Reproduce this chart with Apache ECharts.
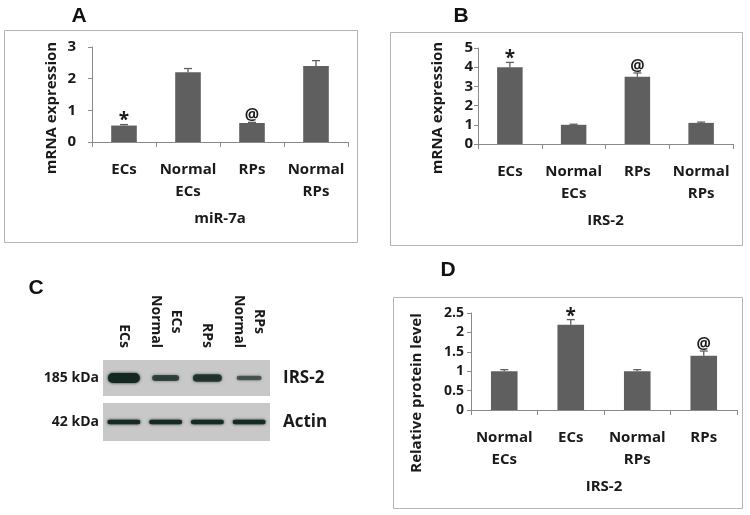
<!DOCTYPE html>
<html>
<head>
<meta charset="utf-8">
<script src="https://cdn.jsdelivr.net/npm/echarts@6/dist/echarts.min.js"></script>
<style>html,body{margin:0;padding:0;background:#fff}#c{width:750px;height:515px}</style>
</head>
<body>
<div id="c"></div>
<script>
// ---- Data ----
const catsAB = ['ECs', 'Normal\nECs', 'RPs', 'Normal\nRPs'];
const miR7aValues = [0.52, 2.2, 0.6, 2.4];
const miR7aErrors = [0.03, 0.12, 0.02, 0.17];
const miR7aMarks = ['*', '', '@', ''];
const yTicksA = [0, 1, 2, 3];

const irs2mRNAValues = [4.0, 1.0, 3.5, 1.1];
const irs2mRNAErrors = [0.25, 0.03, 0.2, 0.04];
const irs2mRNAMarks = ['*', '', '@', ''];
const yTicksB = [0, 1, 2, 3, 4, 5];

const catsD = ['Normal\nECs', 'ECs', 'Normal\nRPs', 'RPs'];
const irs2ProteinValues = [1.0, 2.2, 1.0, 1.4];
const irs2ProteinErrors = [0.04, 0.13, 0.04, 0.12];
const irs2ProteinMarks = ['', '*', '', '@'];
const yTicksD = [0, 0.5, 1, 1.5, 2, 2.5];

const blotLanes = ['ECs', 'Normal\nECs', 'RPs', 'Normal\nRPs'];
const irs2BandIntensity = [1.0, 0.5, 0.7, 0.3];
const actinBandIntensity = [0.9, 0.9, 0.9, 0.9];

// ---- Helpers ----
const FONT = '"Open Sans", Lato, sans-serif';
const TXT = '#1a1a1a';
const AXC = '#8a8a8a';
const BAR = '#5f5f5f';

function errRender(marks) {
  return function (params, api) {
    const i = api.value(0), v = api.value(1), e = api.value(2);
    const p0 = api.coord([i, v]);
    const p1 = api.coord([i, v + e]);
    const cap = 4;
    const children = [
      { type: 'line', shape: { x1: p0[0], y1: p0[1], x2: p1[0], y2: p1[1] }, style: { stroke: BAR, lineWidth: 1.3 } },
      { type: 'line', shape: { x1: p1[0] - cap, y1: p1[1], x2: p1[0] + cap, y2: p1[1] }, style: { stroke: BAR, lineWidth: 1.3 } }
    ];
    const m = marks[params.dataIndex];
    if (m) {
      children.push({
        type: 'text',
        style: {
          text: m, x: p1[0], y: m === '*' ? p1[1] + 6 : p1[1] + 1,
          align: 'center', verticalAlign: 'bottom',
          font: 'bold ' + (m === '*' ? 19 : 16) + 'px ' + FONT, fill: TXT
        }
      });
    }
    return { type: 'group', children };
  };
}

function valueAxis(gridIndex, ticks, margin, fontSize) {
  return {
    type: 'value', gridIndex,
    min: ticks[0], max: ticks[ticks.length - 1], interval: ticks[1] - ticks[0],
    splitLine: { show: false },
    axisLine: { show: true, lineStyle: { color: AXC } },
    axisTick: { show: true, length: 4, lineStyle: { color: AXC } },
    axisLabel: { margin, color: TXT, fontFamily: FONT, fontWeight: 'bold', fontSize }
  };
}
function catAxis(gridIndex, cats, name) {
  return {
    type: 'category', gridIndex, data: cats,
    name, nameLocation: 'middle', nameGap: 69,
    nameTextStyle: { color: TXT, fontFamily: FONT, fontWeight: 'bold', fontSize: 15 },
    axisLine: { show: true, lineStyle: { color: AXC } },
    axisTick: { show: true, length: 5, interval: 0, lineStyle: { color: AXC } },
    axisLabel: { interval: 0, margin: 17, lineHeight: 22, color: TXT, fontFamily: FONT, fontWeight: 'bold', fontSize: 15 }
  };
}
function barPair(axisIdx, values, errors, marks) {
  return [
    { type: 'bar', xAxisIndex: axisIdx, yAxisIndex: axisIdx, data: values, barWidth: '40%',
      itemStyle: { color: BAR }, silent: true },
    { type: 'custom', xAxisIndex: axisIdx, yAxisIndex: axisIdx,
      data: values.map((v, i) => [i, v, errors[i]]),
      encode: { x: 0, y: 1 }, renderItem: errRender(marks), silent: true, z: 5 }
  ];
}
function bandRender(kind) {
  return function (params, api) {
    const lane = api.value(0), I = api.value(2);
    const c = api.coord([lane, 0]);
    let w, h;
    if (kind === 'irs') { w = 22 + 10 * I; h = 2 + 8 * I; }
    else { w = 33; h = 4.5; }
    const alpha = 0.45 + 0.55 * I;
    const col = 'rgba(20,40,33,' + alpha.toFixed(2) + ')';
    return {
      type: 'rect',
      shape: { x: c[0] - w / 2, y: c[1] - h / 2, width: w, height: h, r: h / 2 },
      style: { fill: col, shadowBlur: 3, shadowColor: col }
    };
  };
}

const rectStyle = { fill: 'none', stroke: '#b4b4b4', lineWidth: 1 };
const yNameStyle = { fill: TXT, font: 'bold 15px ' + FONT, align: 'center', verticalAlign: 'middle' };
const letterStyle = { fill: '#111', font: 'bold 21px "Liberation Sans", Arial, sans-serif', align: 'center', verticalAlign: 'middle' };
const laneLabel = v => v.split('\n').reverse().map(s => '{c|' + s + '}').join('\n');

const option = {
  animation: false,
  backgroundColor: '#fff',
  grid: [
    { left: 92, top: 47, width: 256, height: 95 },
    { left: 478, top: 48, width: 255, height: 96 },
    { left: 471, top: 313, width: 266, height: 97 },
    { left: 103, top: 360, width: 167, height: 36, show: true, backgroundColor: '#c8c8c8', borderWidth: 0 },
    { left: 103, top: 403, width: 167, height: 38, show: true, backgroundColor: '#c8c8c8', borderWidth: 0 }
  ],
  xAxis: [
    catAxis(0, catsAB, 'miR-7a'),
    catAxis(1, catsAB, 'IRS-2'),
    catAxis(2, catsD, 'IRS-2'),
    { type: 'category', gridIndex: 3, data: blotLanes, position: 'top',
      axisLine: { show: false }, axisTick: { show: false },
      axisLabel: { interval: 0, rotate: 90, margin: 12, formatter: laneLabel,
        rich: { c: { align: 'center', lineHeight: 20, color: TXT, fontFamily: FONT, fontWeight: 'bold', fontSize: 14 } } } },
    { type: 'category', gridIndex: 4, data: blotLanes, show: false }
  ],
  yAxis: [
    valueAxis(0, yTicksA, 16, 15),
    valueAxis(1, yTicksB, 5, 15),
    valueAxis(2, yTicksD, 7, 14),
    { type: 'category', gridIndex: 3, data: ['185 kDa'], position: 'left', axisLine: { show: false }, axisTick: { show: false },
      axisLabel: { margin: 4, color: TXT, fontFamily: FONT, fontWeight: 'bold', fontSize: 14 } },
    { type: 'category', gridIndex: 3, data: ['IRS-2'], position: 'right', axisLine: { show: false }, axisTick: { show: false },
      axisLabel: { margin: 13, color: TXT, fontFamily: FONT, fontWeight: 'bold', fontSize: 17 } },
    { type: 'category', gridIndex: 4, data: ['42 kDa'], position: 'left', axisLine: { show: false }, axisTick: { show: false },
      axisLabel: { margin: 4, color: TXT, fontFamily: FONT, fontWeight: 'bold', fontSize: 14 } },
    { type: 'category', gridIndex: 4, data: ['Actin'], position: 'right', axisLine: { show: false }, axisTick: { show: false },
      axisLabel: { margin: 13, color: TXT, fontFamily: FONT, fontWeight: 'bold', fontSize: 17 } }
  ],
  series: [
    ...barPair(0, miR7aValues, miR7aErrors, miR7aMarks),
    ...barPair(1, irs2mRNAValues, irs2mRNAErrors, irs2mRNAMarks),
    ...barPair(2, irs2ProteinValues, irs2ProteinErrors, irs2ProteinMarks),
    { type: 'custom', xAxisIndex: 3, yAxisIndex: 3,
      data: irs2BandIntensity.map((v, i) => [i, 0, v]), encode: { x: 0, y: 1 },
      renderItem: bandRender('irs'), silent: true },
    { type: 'custom', xAxisIndex: 4, yAxisIndex: 5,
      data: actinBandIntensity.map((v, i) => [i, 0, v]), encode: { x: 0, y: 1 },
      renderItem: bandRender('actin'), silent: true }
  ],
  graphic: [
    { type: 'rect', shape: { x: 4.5, y: 30.5, width: 353, height: 212 }, style: rectStyle, silent: true },
    { type: 'rect', shape: { x: 390.5, y: 32.5, width: 352, height: 213 }, style: rectStyle, silent: true },
    { type: 'rect', shape: { x: 393.5, y: 297.5, width: 349, height: 211 }, style: rectStyle, silent: true },
    { type: 'text', x: 52, y: 108, rotation: Math.PI / 2, style: Object.assign({ text: 'mRNA expression' }, yNameStyle), silent: true },
    { type: 'text', x: 438, y: 108, rotation: Math.PI / 2, style: Object.assign({ text: 'mRNA expression' }, yNameStyle), silent: true },
    { type: 'text', x: 417, y: 393, rotation: Math.PI / 2, style: Object.assign({ text: 'Relative protein level' }, yNameStyle), silent: true },
    { type: 'text', x: 79, y: 16, style: Object.assign({ text: 'A' }, letterStyle), silent: true },
    { type: 'text', x: 461, y: 16, style: Object.assign({ text: 'B' }, letterStyle), silent: true },
    { type: 'text', x: 36, y: 288, style: Object.assign({ text: 'C' }, letterStyle), silent: true },
    { type: 'text', x: 448, y: 270, style: Object.assign({ text: 'D' }, letterStyle), silent: true }
  ]
};
const chart = echarts.init(document.getElementById('c'), null, { renderer: 'canvas' });
chart.setOption(option);
</script>
</body>
</html>
